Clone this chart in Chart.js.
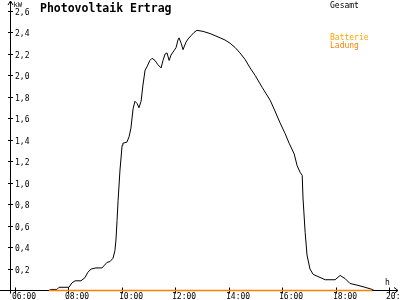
<!DOCTYPE html>
<html>
<head>
<meta charset="utf-8">
<script src="https://cdn.jsdelivr.net/npm/chart.js@4"></script>
<style>
html,body{margin:0;padding:0;background:#fff;}
canvas{display:block;}
</style>
</head>
<body>
<canvas id="c" width="400" height="300"></canvas>
<script>
// ---- data ----
const hours = [7.27,7.35,7.57,7.65,8.02,8.13,8.25,8.47,8.62,8.73,8.85,9.03,9.26,9.33,9.44,9.56,9.67,9.74,9.78,9.82,9.86,9.93,
  10.01,10.04,10.19,10.27,10.34,10.42,10.49,10.57,10.64,10.72,10.79,10.87,10.94,11.05,11.13,11.24,11.35,11.47,11.54,11.62,11.69,11.77,11.84,11.95,
  12.03,12.10,12.14,12.22,12.29,12.40,12.48,12.59,12.70,12.81,13.04,13.30,13.49,13.68,13.86,14.05,14.24,14.42,14.61,14.80,14.99,15.25,15.55,15.73,15.92,
  16.11,16.26,16.45,16.56,16.67,16.75,16.78,16.86,16.93,17.04,17.16,17.34,17.61,17.98,18.17,18.36,18.54,18.80,19.10,19.37,19.44];
const gesamt = [0,0.01,0.01,0.03,0.03,0.07,0.09,0.09,0.12,0.17,0.20,0.21,0.21,0.23,0.26,0.27,0.30,0.37,0.47,0.65,0.84,1.12,
  1.35,1.37,1.38,1.43,1.51,1.69,1.76,1.74,1.70,1.76,1.91,2.05,2.08,2.14,2.16,2.14,2.10,2.07,2.14,2.20,2.21,2.14,2.19,2.23,
  2.26,2.33,2.35,2.30,2.24,2.31,2.34,2.37,2.40,2.42,2.41,2.39,2.37,2.35,2.33,2.30,2.26,2.21,2.15,2.07,2.00,1.89,1.77,1.67,1.56,
  1.46,1.37,1.27,1.16,1.10,1.07,0.86,0.54,0.33,0.20,0.15,0.13,0.10,0.10,0.14,0.11,0.065,0.05,0.03,0.01,0];
const batterieHours = [7.27, 19.37];
const batterie = [0, 0];
const xTickValues = [6, 8, 10, 12, 14, 16, 18, 20];
const xTickLabels = ["06:00","08:00","10:00","12:00","14:00","16:00","18:00","20:00"];
const yTickValues = [0.2,0.4,0.6,0.8,1.0,1.2,1.4,1.6,1.8,2.0,2.2,2.4,2.6];
const yTickLabels = ["0,2","0,4","0,6","0,8","1,0","1,2","1,4","1,6","1,8","2,0","2,2","2,4","2,6"];
const title = "Photovoltaik Ertrag";
const seriesNames = ["Gesamt", "Batterie", "Ladung"];
const unitY = "kW", unitX = "h";

const FONT = '"DejaVu Sans Mono", monospace';

const axesPlugin = {
  id: 'axes',
  beforeDatasetsDraw(chart) {
    const ctx = chart.ctx;
    const xs = chart.scales.x, ys = chart.scales.y;
    const y0 = ys.getPixelForValue(0);
    const ax = xs.left + 10.5;
    ctx.save();
    ctx.strokeStyle = '#000';
    ctx.lineWidth = 1;
    ctx.beginPath();
    // y axis with arrow
    ctx.moveTo(ax, 1); ctx.lineTo(ax, y0 + 3);
    ctx.moveTo(ax - 2.5, 5); ctx.lineTo(ax, 1); ctx.lineTo(ax + 2.5, 5);
    // x axis with arrow
    ctx.moveTo(0, y0); ctx.lineTo(398, y0);
    ctx.moveTo(394, y0 - 3); ctx.lineTo(398, y0); ctx.lineTo(394, y0 + 3);
    // y ticks
    yTickValues.forEach(v => {
      const p = Math.round(ys.getPixelForValue(v)) + 0.5;
      ctx.moveTo(ax - 2.5, p); ctx.lineTo(ax + 2.5, p);
    });
    // x ticks
    xTickValues.forEach(v => {
      const p = Math.round(xs.getPixelForValue(v)) + 0.5;
      ctx.moveTo(p, y0 - 3); ctx.lineTo(p, y0 + 3);
    });
    ctx.stroke();

    ctx.fillStyle = '#000';
    ctx.font = '8px ' + FONT;
    ctx.textAlign = 'left';
    ctx.textBaseline = 'alphabetic';
    yTickValues.forEach((v, i) => {
      const p = Math.round(ys.getPixelForValue(v));
      ctx.fillText(yTickLabels[i], ax + 4.5, p + 3.5);
    });
    xTickValues.forEach((v, i) => {
      const p = Math.round(xs.getPixelForValue(v));
      ctx.fillText(xTickLabels[i], p - 3, 299);
    });
    ctx.font = '7px ' + FONT;
    ctx.fillText(unitY, ax + 3, 6.5);
    ctx.font = '8px ' + FONT;
    ctx.fillText(unitX, 385, 284.5);

    // title
    ctx.font = 'bold 11.5px ' + FONT;
    ctx.fillText(title, 40, 12);
    // legend
    ctx.font = '8px ' + FONT;
    ctx.fillStyle = '#000';
    ctx.fillText(seriesNames[0], 330, 8);
    ctx.fillStyle = '#FFA500';
    ctx.fillText(seriesNames[1], 330, 39.5);
    ctx.fillStyle = '#FF8000';
    ctx.fillText(seriesNames[2], 330, 47.5);
    ctx.restore();
  }
};

new Chart(document.getElementById('c'), {
  type: 'line',
  data: {
    datasets: [
      {
        label: seriesNames[1] + ' ' + seriesNames[2],
        data: batterieHours.map((h, i) => ({x: h, y: batterie[i]})),
        borderColor: '#FF8000',
        borderWidth: 1.6,
        pointRadius: 0,
        tension: 0,
        clip: false,
        order: 0
      },
      {
        label: seriesNames[0],
        data: hours.map((h, i) => ({x: h, y: gesamt[i]})),
        borderColor: '#000',
        borderWidth: 1,
        pointRadius: 0,
        tension: 0,
        clip: false,
        order: 1
      }
    ]
  },
  options: {
    responsive: false,
    devicePixelRatio: 1,
    animation: false,
    layout: { padding: { left: 0, right: 0, top: 0, bottom: 9.5 } },
    plugins: { legend: { display: false }, tooltip: { enabled: false } },
    scales: {
      x: { type: 'linear', display: false, min: 5.44, max: 20.41 },
      y: { type: 'linear', display: false, min: 0, max: 2.702 }
    }
  },
  plugins: [axesPlugin]
});
</script>
</body>
</html>
